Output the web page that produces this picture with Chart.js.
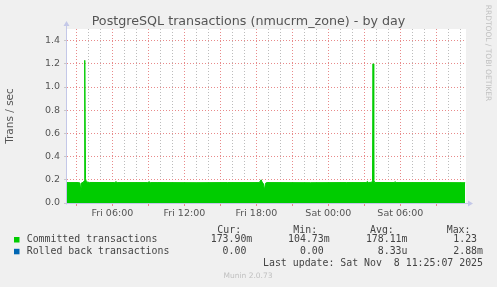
<!DOCTYPE html>
<html>
<head>
<meta charset="utf-8">
<script src="https://cdn.jsdelivr.net/npm/chart.js@4.4.0/dist/chart.umd.min.js"></script>
<style>
  html, body { margin: 0; padding: 0; background: #f0f0f0; }
  #wrap { width: 497px; height: 287px; }
</style>
</head>
<body>
<div id="wrap"><canvas id="chart" width="497" height="287"></canvas></div>
<script>
// hours counted from Fri 00:00
const hours = [
  2.22, 3.20, 3.30, 3.37, 3.44, 3.58, 3.64, 3.70, 3.76, 3.84, 4.10,
  6.20, 6.30, 6.40, 8.95, 9.06, 9.17, 9.80, 13.0, 15.6,
  18.25, 18.33, 18.40, 18.48, 18.58, 18.67, 18.76, 18.86, 22.5, 25.5,
  27.15, 27.25, 27.35, 27.60, 27.68, 27.72, 27.78, 27.86,
  29.48, 29.56, 29.64, 33.0, 35.40
];
const committed = [
  0.176, 0.176, 0.172, 0.105, 0.174, 0.178, 0.19, 1.23, 0.21, 0.182, 0.177,
  0.176, 0.184, 0.176, 0.176, 0.183, 0.176, 0.176, 0.175, 0.176,
  0.176, 0.19, 0.2, 0.18, 0.168, 0.112, 0.17, 0.176, 0.175, 0.176,
  0.176, 0.186, 0.177, 0.178, 0.19, 1.2, 0.2, 0.177,
  0.176, 0.184, 0.176, 0.176, 0.175
];
const rolledBack = [
  0, 0, 0, 0, 0, 0, 0, 0, 0, 0, 0,
  0, 0, 0, 0, 0, 0, 0, 0, 0,
  0, 0, 0, 0, 0, 0, 0, 0, 0, 0,
  0, 0, 0, 0, 0, 0, 0, 0,
  0, 0, 0, 0, 0
];

const xLabelHours = [6, 12, 18, 24, 30];
const xLabelText = ["Fri 06:00", "Fri 12:00", "Fri 18:00", "Sat 00:00", "Sat 06:00"];

const seriesNames = ["Committed transactions", "Rolled back transactions"];
const seriesColors = ["#00cc00", "#0066b3"];
const curValues = ["173.90m", "0.00 "];
const minValues = ["104.73m", "0.00 "];
const avgValues = ["178.11m", "8.33u"];
const maxValues = ["1.23 ", "2.88m"];

const titleText = "PostgreSQL transactions (nmucrm_zone) - by day";
const yTitle = "Trans / sec";
const lastUpdate = "Last update: Sat Nov  8 11:25:07 2025";

const gridMinor = "#bcbcbc";
const gridMajor = "#e88a8a";
const axisColor = "#c4c8e8";

const toPoints = (vals) => vals.map((v, i) => ({ x: hours[i], y: v }));

const isStep = (v, step) => Math.abs(v / step - Math.round(v / step)) < 1e-6;

const munin = {
  id: "munin",
  beforeDraw(chart) {
    const { ctx, chartArea: a } = chart;
    ctx.save();
    ctx.fillStyle = "#f0f0f0";
    ctx.fillRect(0, 0, chart.width, chart.height);
    ctx.fillStyle = "#ffffff";
    ctx.fillRect(a.left, a.top, a.right - a.left, a.bottom - a.top);
    ctx.restore();
  },
  afterDraw(chart) {
    const { ctx, chartArea: a } = chart;
    ctx.save();

    // axes with arrows
    const by = Math.round(a.bottom) + 0.5;
    const lx = Math.round(a.left) - 0.5;
    ctx.strokeStyle = axisColor;
    ctx.fillStyle = axisColor;
    ctx.lineWidth = 1;
    ctx.beginPath();
    ctx.moveTo(lx - 1, by);
    ctx.lineTo(a.right + 3, by);
    ctx.moveTo(lx, by + 1);
    ctx.lineTo(lx, a.top - 4);
    ctx.stroke();
    ctx.beginPath();
    ctx.moveTo(a.right + 7, by);
    ctx.lineTo(a.right + 2, by - 3);
    ctx.lineTo(a.right + 2, by + 3);
    ctx.closePath();
    ctx.fill();
    ctx.beginPath();
    ctx.moveTo(lx, a.top - 8);
    ctx.lineTo(lx - 3, a.top - 3);
    ctx.lineTo(lx + 3, a.top - 3);
    ctx.closePath();
    ctx.fill();

    // title
    ctx.fillStyle = "#555555";
    ctx.font = '12.7px "DejaVu Sans"';
    ctx.textAlign = "center";
    ctx.textBaseline = "alphabetic";
    ctx.fillText(titleText, 248.5, 24.5);

    // y axis title
    ctx.save();
    ctx.translate(10.5, (a.top + a.bottom) / 2);
    ctx.rotate(-Math.PI / 2);
    ctx.font = '10.5px "DejaVu Sans"';
    ctx.textBaseline = "middle";
    ctx.fillText(yTitle, 0, 0);
    ctx.restore();

    // rrdtool credit
    ctx.save();
    ctx.translate(487.5, 53);
    ctx.rotate(Math.PI / 2);
    ctx.font = '7.5px "DejaVu Sans"';
    ctx.fillStyle = "#c0c0c0";
    ctx.textBaseline = "middle";
    ctx.fillText("RRDTOOL / TOBI OETIKER", 0, 0);
    ctx.restore();

    // legend table
    ctx.font = '9.9px "DejaVu Sans Mono"';
    ctx.fillStyle = "#444444";
    ctx.textBaseline = "middle";
    ctx.textAlign = "left";
    ["Cur:", "Min:", "Avg:", "Max:"].forEach((h, i) => {
      ctx.fillText(h, [217.3, 293.3, 370, 446.7][i], 230);
    });
    const rowY = [239.5, 251.3];
    seriesNames.forEach((name, i) => {
      ctx.fillStyle = seriesColors[i];
      ctx.fillRect(14, rowY[i] - 2.5, 5.5, 5.5);
      ctx.fillStyle = "#444444";
      ctx.textAlign = "left";
      ctx.fillText(name, 26.7, rowY[i]);
      ctx.textAlign = "right";
      ctx.fillText(curValues[i], 252.3, rowY[i]);
      ctx.fillText(minValues[i], 329.7, rowY[i]);
      ctx.fillText(avgValues[i], 407.5, rowY[i]);
      ctx.fillText(maxValues[i], 483, rowY[i]);
    });
    ctx.fillText(lastUpdate, 483, 263.7);

    ctx.font = '7.5px "DejaVu Sans"';
    ctx.fillStyle = "#c0c0c0";
    ctx.textAlign = "center";
    ctx.fillText("Munin 2.0.73", 248, 276.5);
    ctx.restore();
  }
};

new Chart(document.getElementById("chart"), {
  type: "line",
  data: {
    datasets: [
      {
        label: seriesNames[0],
        data: toPoints(committed),
        borderColor: seriesColors[0],
        backgroundColor: seriesColors[0],
        borderWidth: 1,
        fill: "origin",
        pointRadius: 0,
        tension: 0,
      },
      {
        label: seriesNames[1],
        data: toPoints(rolledBack),
        borderColor: seriesColors[1],
        backgroundColor: seriesColors[1],
        borderWidth: 0,
        fill: "origin",
        pointRadius: 0,
        tension: 0,
      },
    ],
  },
  options: {
    responsive: false,
    animation: false,
    devicePixelRatio: 1,
    layout: { padding: { left: 0, top: 29, right: 31, bottom: 64 } },
    plugins: {
      legend: { display: false },
      title: { display: false },
      tooltip: { enabled: false },
    },
    scales: {
      x: {
        type: "linear",
        min: 2.22,
        max: 35.47,
        afterFit: (s) => { s.height = 20; },
        border: { display: false, dash: [1, 2] },
        grid: {
          color: (c) => (isStep(c.tick.value, 3) ? gridMajor : gridMinor),
          tickColor: (c) => (isStep(c.tick.value, 3) ? gridMajor : "rgba(0,0,0,0)"),
          tickLength: 3,
          lineWidth: 1,
        },
        ticks: {
          stepSize: 1,
          includeBounds: false,
          autoSkip: false,
          maxRotation: 0,
          padding: 2,
          color: "#555555",
          font: { family: "DejaVu Sans", size: 9.5 },
          callback: (v) => {
            const i = xLabelHours.indexOf(Math.round(v));
            return i >= 0 && isStep(v, 1) ? xLabelText[i] : "";
          },
        },
      },
      y: {
        min: 0,
        max: 1.5,
        afterFit: (s) => { s.width = 67; },
        border: { display: false, dash: [1, 2] },
        grid: {
          color: (c) => (isStep(c.tick.value, 0.2) ? gridMajor : gridMinor),
          tickColor: "#c8c8c8",
          tickLength: 3,
          lineWidth: 1,
        },
        ticks: {
          stepSize: 0.1,
          includeBounds: false,
          padding: 4,
          color: "#555555",
          font: { family: "DejaVu Sans", size: 9.5 },
          callback: (v) => (isStep(v, 0.2) ? v.toFixed(1) : ""),
        },
      },
    },
  },
  plugins: [munin],
});
</script>
</body>
</html>
